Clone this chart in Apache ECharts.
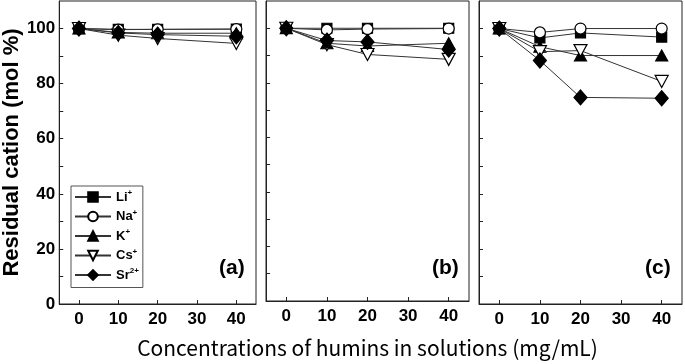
<!DOCTYPE html>
<html>
<head>
<meta charset="utf-8">
<script src="https://cdn.jsdelivr.net/npm/echarts@6/dist/echarts.min.js"></script>
<style>
  html, body { margin: 0; padding: 0; background: #fff; }
  #chart { width: 685px; height: 364px; }
</style>
</head>
<body>
<div id="chart"></div>
<script>
// humin concentration (mg/mL)
const conc = [0, 10, 20, 40]
const xTicks = [0, 10, 20, 30, 40]
const yTicks = [0, 10, 20, 30, 40, 50, 60, 70, 80, 90, 100]
const yLabels = [0, 20, 40, 60, 80, 100]

const cations = ['Li', 'Na', 'K', 'Cs', 'Sr']
const charges = ['+', '+', '+', '+', '2+']
const panelNames = ['(a)', '(b)', '(c)']

// residual cation (mol %) per panel
const liA = [100, 99.7, 99.7, 99.8]
const naA = [100, 99.6, 99.7, 99.8]
const kA = [100, 98.6, 98.3, 98.3]
const csA = [100, 97.6, 96.4, 94.6]
const srA = [100, 98.4, 97.8, 97.2]

const liB = [100, 100, 100, 100]
const naB = [100, 99.4, 99.7, 99.9]
const kB = [100, 94.5, 93.5, 94.5]
const csB = [100, 94, 90.4, 88.6]
const srB = [100, 95.5, 95, 92.2]

const liC = [100, 96.6, 98.4, 96.9]
const naC = [100, 98.6, 100, 100]
const kC = [100, 93.4, 90.2, 90.2]
const csC = [100, 91.6, 92, 80.8]
const srC = [100, 88.4, 75, 74.7]

const panels = [
  [liA, naA, kA, csA, srA],
  [liB, naB, kB, csB, srB],
  [liC, naC, kC, csC, srC]
]

// marker look per cation
const symbols = [
  { symbol: 'rect', size: 10, fill: '#000' },
  { symbol: 'circle', size: 11, fill: '#fff' },
  { symbol: 'triangle', size: [12, 11], fill: '#000' },
  { symbol: 'path://M0,0 L12,0 L6,11 Z', size: [13, 12], fill: '#fff' },
  { symbol: 'diamond', size: [13, 15], fill: '#000' }
]

const gridLefts = [53, 266, 479]
const gridWidth = 203
const tickFont = { fontFamily: 'Liberation Sans', fontWeight: 'bold', fontSize: 17, color: '#000' }

const grids = []
const xAxes = []
const yAxes = []
const series = []

gridLefts.forEach((left, i) => {
  grids.push({
    left: left, top: 1, width: gridWidth, height: 303,
    show: true, borderColor: '#222', borderWidth: 1, backgroundColor: 'transparent'
  })
  xAxes.push({
    gridIndex: i, type: 'value', min: -5, max: 45,
    axisLine: { onZero: false, lineStyle: { color: '#222', width: 1 } },
    axisTick: { inside: true, length: 4, customValues: xTicks, lineStyle: { color: '#222' } },
    axisLabel: Object.assign({ customValues: xTicks, margin: 7 }, tickFont),
    splitLine: { show: false },
    name: i === 1 ? 'Concentrations of humins in solutions (mg/mL)' : '',
    nameLocation: 'middle',
    nameGap: 37,
    nameTextStyle: { fontFamily: 'Noto Sans CJK JP', fontSize: 21, color: '#000' }
  })
  yAxes.push({
    gridIndex: i, type: 'value', min: 0, max: 110,
    axisLine: { show: true, onZero: false, lineStyle: { color: '#222', width: 1 } },
    axisTick: { show: true, inside: true, length: 4, customValues: yTicks, lineStyle: { color: '#222' } },
    axisLabel: Object.assign({ show: i === 0, customValues: yLabels, margin: 4 }, tickFont),
    splitLine: { show: false },
    name: i === 0 ? 'Residual cation (mol %)' : '',
    nameLocation: 'middle',
    nameGap: 36,
    nameRotate: 90,
    nameTextStyle: { fontFamily: 'Liberation Sans', fontWeight: 'bold', fontSize: 22, color: '#000' }
  })
  panels[i].forEach((vals, k) => {
    const s = symbols[k]
    series.push({
      name: cations[k],
      type: 'line',
      xAxisIndex: i,
      yAxisIndex: i,
      data: conc.map((c, j) => [c, vals[j]]),
      symbol: s.symbol,
      symbolSize: s.size,
      showAllSymbol: true,
      lineStyle: { color: '#333', width: 1 },
      itemStyle: { color: s.fill, borderColor: '#000', borderWidth: 1.2 },
      emphasis: { disabled: true },
      z: 2 + k
    })
  })
})

const chart = echarts.init(document.getElementById('chart'), null, { renderer: 'canvas' })
chart.setOption({
  animation: false,
  grid: grids,
  xAxis: xAxes,
  yAxis: yAxes,
  legend: {
    data: cations,
    orient: 'vertical',
    left: 71,
    top: 186,
    itemWidth: 36,
    itemHeight: 12,
    itemGap: 5,
    padding: [3, 4, 6, 3],
    borderColor: '#555',
    borderWidth: 1,
    selectedMode: false,
    formatter: name => '{b|' + name + '}{s|' + charges[cations.indexOf(name)] + '}',
    textStyle: {
      rich: {
        b: { fontFamily: 'Liberation Sans', fontWeight: 'bold', fontSize: 13, color: '#000', lineHeight: 16 },
        s: { fontFamily: 'Liberation Sans', fontWeight: 'bold', fontSize: 8, color: '#000', verticalAlign: 'top', lineHeight: 10 }
      }
    }
  },
  graphic: panelNames.map((t, i) => ({
    type: 'text',
    left: gridLefts[i] + gridWidth - 37,
    top: 258,
    style: { text: t, font: 'bold 21px "Liberation Sans"', fill: '#000' }
  })),
  series: series
})
</script>
</body>
</html>
